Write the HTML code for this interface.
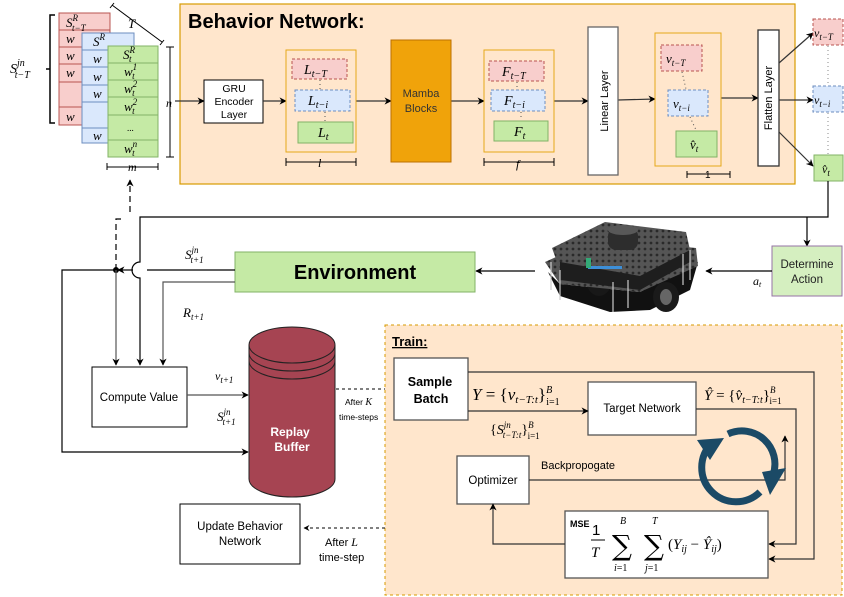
<!DOCTYPE html>
<html><head><meta charset="utf-8"><style>
html,body{margin:0;padding:0;background:#fff}
svg{display:block}
.s{font-family:"Liberation Sans",sans-serif}
.m{font-family:"Liberation Serif",serif;font-style:italic}
</style></head><body>
<svg width="844" height="597" viewBox="0 0 844 597" xmlns="http://www.w3.org/2000/svg">
<defs>
<marker id="a" viewBox="0 0 10 10" refX="9" refY="5" markerWidth="6" markerHeight="6" orient="auto-start-reverse"><path d="M0,0 L10,5 L0,10 L3,5 z" fill="#000"/></marker>
<pattern id="holes" width="6" height="6" patternUnits="userSpaceOnUse"><rect width="6" height="6" fill="#555"/><circle cx="3" cy="3" r="1.4" fill="#2a2a2a"/></pattern>
</defs>
<!-- Behavior network -->
<rect x="180" y="4" width="615" height="180" fill="#ffe6cc" stroke="#d79b00" stroke-width="1.2"/>
<text x="188" y="28" class="s" font-size="20" font-weight="bold">Behavior Network:</text>

<!-- stacks -->
<g stroke="#b85450" fill="#f8cecc" stroke-width="1">
<rect x="59" y="13" width="51" height="17"/><rect x="59" y="30" width="51" height="17"/><rect x="59" y="47" width="51" height="17"/><rect x="59" y="64" width="51" height="18"/><rect x="59" y="82" width="51" height="25"/><rect x="59" y="107" width="51" height="18"/>
</g>
<g class="m" font-size="13"><text x="66" y="27">S<tspan font-size="9" dy="-6">R</tspan><tspan font-size="9" dx="-6" dy="10">t−T</tspan></text>
<text x="66" y="43">w</text><text x="66" y="60">w</text><text x="66" y="77">w</text><text x="66" y="121">w</text></g>
<g stroke="#6c8ebf" fill="#dae8fc" stroke-width="1">
<rect x="82" y="33" width="52" height="17"/><rect x="82" y="50" width="52" height="17"/><rect x="82" y="67" width="52" height="18"/><rect x="82" y="85" width="52" height="17"/><rect x="82" y="102" width="52" height="26"/><rect x="82" y="128" width="52" height="15"/>
</g>
<g class="m" font-size="13"><text x="93" y="46">S<tspan font-size="9" dy="-6">R</tspan></text>
<text x="93" y="63">w</text><text x="93" y="81">w</text><text x="93" y="98">w</text><text x="93" y="140">w</text></g>
<g stroke="#82b366" fill="#c5eaa5" stroke-width="1">
<rect x="108" y="46" width="50" height="17"/><rect x="108" y="63" width="50" height="17"/><rect x="108" y="80" width="50" height="17"/><rect x="108" y="97" width="50" height="18"/><rect x="108" y="115" width="50" height="25"/><rect x="108" y="140" width="50" height="17"/>
</g>
<g class="m" font-size="13">
<text x="123" y="59">S<tspan font-size="9" dy="-6">R</tspan><tspan font-size="9" dx="-6" dy="9">t</tspan></text>
<text x="124" y="76">w<tspan font-size="9" dy="-6">1</tspan><tspan font-size="9" dx="-5" dy="9">t</tspan></text>
<text x="124" y="93">w<tspan font-size="9" dy="-6">2</tspan><tspan font-size="9" dx="-5" dy="9">t</tspan></text>
<text x="124" y="111">w<tspan font-size="9" dy="-6">2</tspan><tspan font-size="9" dx="-5" dy="9">t</tspan></text>
<text x="127" y="131" font-size="9" font-style="normal">...</text>
<text x="124" y="153">w<tspan font-size="9" dy="-6">n</tspan><tspan font-size="9" dx="-5" dy="9">t</tspan></text>
</g>
<path d="M55,15 H50 V123 H55 M50,69 H46" fill="none" stroke="#000" stroke-width="1.5"/>
<text x="10" y="73" class="m" font-size="14">S<tspan font-size="10" dy="-7">jn</tspan><tspan font-size="10" dx="-10" dy="12">t−T</tspan></text>
<path d="M112,5 L162,42 M110,8 L114,3 M160,45 L164,40" stroke="#000" fill="none"/>
<text x="128" y="28" class="m" font-size="13">T</text>
<path d="M166,47 H174 M170,47 V157 M166,157 H174" stroke="#000" fill="none"/>
<text x="166" y="107" class="m" font-size="12">n</text>
<path d="M107,163 V170 M107,167 H158 M158,163 V170" stroke="#000" fill="none"/>
<text x="128" y="171" class="m" font-size="12">m</text>
<path d="M116,270 V219 H125" stroke="#000" fill="none" stroke-dasharray="6,4" stroke-width="1.2"/>
<path d="M130,212 V180" stroke="#000" fill="none" stroke-dasharray="6,4" marker-end="url(#a)" stroke-width="1.2"/>

<!-- GRU -->
<rect x="204" y="80" width="59" height="43" fill="#fff" stroke="#000"/>
<text class="s" font-size="10.5" text-anchor="middle"><tspan x="234" y="92">GRU</tspan><tspan x="234" y="105">Encoder</tspan><tspan x="234" y="118">Layer</tspan></text>
<g stroke="#333" stroke-width="1.2" marker-end="url(#a)">
<line x1="175" y1="101" x2="204" y2="101"/><line x1="263" y1="101" x2="286" y2="101"/><line x1="356" y1="101" x2="391" y2="101"/><line x1="451" y1="101" x2="484" y2="101"/><line x1="554" y1="101" x2="588" y2="101"/><line x1="618" y1="100" x2="655" y2="99"/><line x1="721" y1="98" x2="758" y2="98"/>
<line x1="779" y1="63" x2="813" y2="33"/><line x1="779" y1="100" x2="813" y2="100"/><line x1="779" y1="132" x2="813" y2="166"/>
</g>
<!-- L box -->
<rect x="286" y="50" width="70" height="102" fill="#ffe6cc" stroke="#e6a817"/>
<rect x="292" y="59" width="55" height="20" fill="#f8cecc" stroke="#b85450" stroke-dasharray="3,2"/>
<rect x="295" y="90" width="55" height="21" fill="#dae8fc" stroke="#6c8ebf" stroke-dasharray="3,2"/>
<rect x="298" y="122" width="55" height="21" fill="#c5eaa5" stroke="#82b366"/>
<path d="M320,80 V89 M325,112 V121" stroke="#555" stroke-dasharray="1,3"/>
<g class="m" font-size="14">
<text x="304" y="74">L<tspan font-size="10" dy="3">t−T</tspan></text>
<text x="308" y="105">L<tspan font-size="10" dy="3">t−i</tspan></text>
<text x="318" y="137">L<tspan font-size="10" dy="3">t</tspan></text>
</g>
<path d="M286,158 V166 M286,162 H356 M356,158 V166" stroke="#000" fill="none"/>
<text x="318" y="167" class="m" font-size="12">l</text>
<!-- Mamba -->
<rect x="391" y="40" width="60" height="122" fill="#f0a30a" stroke="#bd7000"/>
<text class="s" font-size="11" text-anchor="middle" fill="#333"><tspan x="421" y="97">Mamba</tspan><tspan x="421" y="112">Blocks</tspan></text>
<!-- F box -->
<rect x="484" y="50" width="70" height="102" fill="#ffe6cc" stroke="#e6a817"/>
<rect x="489" y="61" width="55" height="20" fill="#f8cecc" stroke="#b85450" stroke-dasharray="3,2"/>
<rect x="491" y="90" width="54" height="21" fill="#dae8fc" stroke="#6c8ebf" stroke-dasharray="3,2"/>
<rect x="494" y="121" width="54" height="20" fill="#c5eaa5" stroke="#82b366"/>
<path d="M517,82 V89 M521,112 V120" stroke="#555" stroke-dasharray="1,3"/>
<g class="m" font-size="14">
<text x="502" y="76">F<tspan font-size="10" dy="3">t−T</tspan></text>
<text x="504" y="105">F<tspan font-size="10" dy="3">t−i</tspan></text>
<text x="514" y="136">F<tspan font-size="10" dy="3">t</tspan></text>
</g>
<path d="M484,158 V166 M484,162 H554 M554,158 V166" stroke="#000" fill="none"/>
<text x="516" y="168" class="m" font-size="12">f</text>
<!-- Linear -->
<rect x="588" y="27" width="30" height="148" fill="#fff" stroke="#666" stroke-width="1.3"/>
<text transform="translate(608,101) rotate(-90)" class="s" font-size="11" text-anchor="middle">Linear Layer</text>
<!-- v box -->
<rect x="655" y="33" width="66" height="133" fill="#ffe6cc" stroke="#e6a817"/>
<rect x="661" y="45" width="41" height="26" fill="#f8cecc" stroke="#b85450" stroke-dasharray="3,2"/>
<rect x="668" y="90" width="40" height="26" fill="#dae8fc" stroke="#6c8ebf" stroke-dasharray="3,2"/>
<rect x="676" y="131" width="41" height="26" fill="#c5eaa5" stroke="#82b366"/>
<path d="M682,72 L686,89 M690,117 L696,130" stroke="#555" stroke-dasharray="1,3"/>
<g class="m" font-size="13">
<text x="666" y="63">v<tspan font-size="9" dy="3">t−T</tspan></text>
<text x="673" y="108">v<tspan font-size="9" dy="3">t−i</tspan></text>
<text x="690" y="149">v̂<tspan font-size="9" dy="3">t</tspan></text>
</g>
<path d="M687,171 V178 M687,174 H730 M730,171 V178" stroke="#000" fill="none"/>
<text x="705" y="178" class="s" font-size="10">1</text>
<!-- Flatten -->
<rect x="758" y="30" width="21" height="136" fill="#fff" stroke="#333" stroke-width="1.3"/>
<text transform="translate(772,98) rotate(-90)" class="s" font-size="11" text-anchor="middle">Flatten Layer</text>
<!-- outputs -->
<rect x="813" y="19" width="30" height="26" fill="#f8cecc" stroke="#b85450" stroke-dasharray="3,2"/>
<rect x="813" y="86" width="30" height="26" fill="#dae8fc" stroke="#6c8ebf" stroke-dasharray="3,2"/>
<rect x="814" y="155" width="29" height="26" fill="#c5eaa5" stroke="#82b366"/>
<path d="M828,46 V85 M828,113 V154" stroke="#888" stroke-dasharray="1,3"/>
<g class="m" font-size="12">
<text x="814" y="37">v<tspan font-size="9" dy="3">t−T</tspan></text>
<text x="814" y="104">v<tspan font-size="9" dy="3">t−i</tspan></text>
<text x="822" y="173">v̂<tspan font-size="9" dy="3">t</tspan></text>
</g>
<!-- connectors top -->
<path d="M828,181 V217 H140 V262 A7,7 0 0 0 140,278 V365" fill="none" stroke="#000" stroke-width="1.2" marker-end="url(#a)"/>
<path d="M807,217 V246" fill="none" stroke="#000" stroke-width="1.2" marker-end="url(#a)"/>
<rect x="772" y="246" width="70" height="50" fill="#d5efc0" stroke="#9673a6"/>
<text class="s" font-size="11.5" text-anchor="middle" fill="#222"><tspan x="807" y="268">Determine</tspan><tspan x="807" y="283">Action</tspan></text>
<line x1="772" y1="271" x2="706" y2="271" stroke="#000" stroke-width="1.2" marker-end="url(#a)"/>
<text x="753" y="285" class="m" font-size="12">a<tspan font-size="8" dy="2">t</tspan></text>
<!-- robot -->
<g>
<polygon points="548,272 560,296 610,312 650,310 690,290 698,262 640,292 560,284" fill="#111"/>
<ellipse cx="599" cy="276" rx="14" ry="20" fill="#181818"/>
<ellipse cx="666" cy="297" rx="13" ry="15" fill="#1a1a1a"/>
<ellipse cx="666" cy="297" rx="6" ry="8" fill="#666"/>
<polygon points="545,262 598,238 696,248 698,266 640,292 560,284" fill="url(#holes)"/>
<polygon points="552,248 605,222 686,232 690,250 640,276 560,270" fill="url(#holes)"/>
<polygon points="560,262 640,276 690,250 690,262 640,290 560,280" fill="#1e1e1e"/>
<rect x="608" y="228" width="30" height="22" rx="8" fill="#2d2d2d"/>
<ellipse cx="623" cy="230" rx="15" ry="5" fill="#585858"/>
<rect x="588" y="266" width="34" height="3" fill="#3d8fd8"/>
<rect x="586" y="258" width="5" height="10" fill="#3a7"/>
<g stroke="#ccc" stroke-width="1.2"><line x1="551" y1="262" x2="551" y2="290"/><line x1="560" y1="270" x2="560" y2="300"/><line x1="613" y1="282" x2="613" y2="312"/><line x1="628" y1="280" x2="628" y2="308"/><line x1="683" y1="254" x2="683" y2="285"/><line x1="690" y1="250" x2="690" y2="280"/></g>
</g>
<line x1="535" y1="271" x2="476" y2="271" stroke="#000" stroke-width="1.2" marker-end="url(#a)"/>
<!-- Environment -->
<rect x="235" y="252" width="240" height="40" fill="#c5eaa5" stroke="#82b366"/>
<text x="355" y="279" class="s" font-size="20" font-weight="bold" text-anchor="middle">Environment</text>
<path d="M235,270 H147" stroke="#000" stroke-width="1.2" fill="none"/>
<path d="M133,270 H118" stroke="#000" stroke-width="1.2" fill="none" marker-end="url(#a)"/>
<path d="M116,270 H62 V452 H248" stroke="#000" stroke-width="1.2" fill="none" marker-end="url(#a)"/>
<circle cx="116" cy="270" r="3" fill="#000"/>
<path d="M116,270 V365" stroke="#555" stroke-width="1.2" fill="none" marker-end="url(#a)"/>
<path d="M235,282 H163 V365" stroke="#555" stroke-width="1.2" fill="none" marker-end="url(#a)"/>
<text x="185" y="259" class="m" font-size="13">S<tspan font-size="9" dy="-6">jn</tspan><tspan font-size="9" dx="-8" dy="10">t+1</tspan></text>
<text x="183" y="317" class="m" font-size="13">R<tspan font-size="9" dy="3">t+1</tspan></text>
<!-- compute value -->
<rect x="92" y="367" width="95" height="60" fill="#fff" stroke="#000"/>
<text x="139" y="401" class="s" font-size="11.5" text-anchor="middle">Compute Value</text>
<line x1="187" y1="395" x2="248" y2="395" stroke="#555" stroke-width="1.2" marker-end="url(#a)"/>
<text x="215" y="380" class="m" font-size="12">v<tspan font-size="9" dy="3">t+1</tspan></text>
<text x="217" y="421" class="m" font-size="13">S<tspan font-size="9" dy="-6">jn</tspan><tspan font-size="9" dx="-8" dy="10">t+1</tspan></text>
<!-- cylinder -->
<path d="M249,345 A43,18 0 0 1 335,345 V479 A43,18 0 0 1 249,479 Z" fill="#a64452" stroke="#222" stroke-width="1"/>
<path d="M249,345 A43,18 0 0 0 335,345 M249,353 A43,18 0 0 0 335,353 M249,361 A43,18 0 0 0 335,361" fill="none" stroke="#222"/>
<text class="s" font-size="12" font-weight="bold" fill="#fff" text-anchor="middle"><tspan x="290" y="436">Replay</tspan><tspan x="292" y="451">Buffer</tspan></text>
<line x1="336" y1="389" x2="393" y2="389" stroke="#000" stroke-dasharray="3,3" marker-end="url(#a)"/>
<text x="345" y="405" class="s" font-size="8.5">After <tspan class="m" font-size="10">K</tspan></text>
<text x="339" y="420" class="s" font-size="8.5">time-steps</text>
<!-- Train -->
<rect x="385" y="325" width="457" height="270" fill="#ffe6cc" stroke="#d79b00" stroke-dasharray="3,3"/>
<text x="392" y="346" class="s" font-size="13" font-weight="bold" text-decoration="underline">Train:</text>
<rect x="394" y="358" width="74" height="62" fill="#fff" stroke="#555" stroke-width="1.3"/>
<text class="s" font-size="12.5" font-weight="bold" text-anchor="middle"><tspan x="430" y="386">Sample</tspan><tspan x="431" y="403">Batch</tspan></text>
<rect x="588" y="382" width="108" height="53" fill="#fff" stroke="#555" stroke-width="1.3"/>
<text x="642" y="412" class="s" font-size="11.5" text-anchor="middle">Target Network</text>
<line x1="468" y1="411" x2="588" y2="411" stroke="#333" stroke-width="1.2" marker-end="url(#a)"/>
<text x="472" y="400" class="m" font-size="17">Y <tspan font-style="normal">= {</tspan>v<tspan font-size="11" dy="3">t−T:t</tspan><tspan font-style="normal" dy="-3">}</tspan><tspan font-size="10" dy="-7" font-style="italic">B</tspan><tspan font-size="10" dx="-6" dy="12" font-style="normal">i=1</tspan></text>
<text x="490" y="434" class="m" font-size="14"><tspan font-style="normal">{</tspan>S<tspan font-size="9" dy="-6">jn</tspan><tspan font-size="9" dx="-8" dy="10">t−T:t</tspan><tspan font-style="normal" dy="-4">}</tspan><tspan font-size="9" dy="-6">B</tspan><tspan font-size="9" dx="-6" dy="11" font-style="normal">i=1</tspan></text>
<text x="704" y="400" class="m" font-size="15">Ŷ <tspan font-style="normal">= {</tspan>v̂<tspan font-size="10" dy="3">t−T:t</tspan><tspan font-style="normal" dy="-3">}</tspan><tspan font-size="9" dy="-7">B</tspan><tspan font-size="9" dx="-6" dy="11" font-style="normal">i=1</tspan></text>
<path d="M468,372 H814 V559 H769" stroke="#333" stroke-width="1.2" fill="none" marker-end="url(#a)"/>
<path d="M696,409 H796 V544 H769" stroke="#333" stroke-width="1.2" fill="none" marker-end="url(#a)"/>
<rect x="457" y="456" width="72" height="48" fill="#fff" stroke="#555" stroke-width="1.3"/>
<text x="493" y="484" class="s" font-size="11.5" text-anchor="middle">Optimizer</text>
<path d="M529,480 H785 V436" stroke="#333" stroke-width="1.2" fill="none" marker-end="url(#a)"/>
<text x="541" y="469" class="s" font-size="11">Backpropogate</text>
<rect x="565" y="511" width="203" height="67" fill="#fff" stroke="#555" stroke-width="1.3"/>
<path d="M565,544 H493 V504" stroke="#333" stroke-width="1.2" fill="none" marker-end="url(#a)"/>
<text x="570" y="527" class="s" font-size="9" font-weight="bold">MSE</text>
<text x="592" y="535" class="s" font-size="15">1</text>
<line x1="591" y1="540" x2="605" y2="540" stroke="#000"/>
<text x="591" y="557" class="m" font-size="15">T</text>
<text x="612" y="555" font-family="DejaVu Serif,serif" font-size="28">∑</text>
<text x="644" y="555" font-family="DejaVu Serif,serif" font-size="28">∑</text>
<text x="620" y="524" class="m" font-size="10">B</text>
<text x="652" y="524" class="m" font-size="10">T</text>
<text x="614" y="571" class="m" font-size="10">i<tspan font-style="normal">=1</tspan></text>
<text x="645" y="571" class="m" font-size="10">j<tspan font-style="normal">=1</tspan></text>
<text x="668" y="549" class="m" font-size="15"><tspan font-style="normal">(</tspan>Y<tspan font-size="10" dy="3">ij</tspan><tspan font-style="normal" dy="-3"> − </tspan>Ŷ<tspan font-size="10" dy="3">ij</tspan><tspan font-style="normal" dy="-3">)</tspan></text>
<!-- refresh icon -->
<g stroke="#1b4a66" stroke-width="7" fill="none">
<path d="M712,443 A33,33 0 0 0 760,492"/>
<path d="M728,434 A33,33 0 0 1 773,475"/>
</g>
<polygon points="697,440 724,438 710,460" fill="#1b4a66"/>
<polygon points="762,472 786,468 770,495" fill="#1b4a66"/>
<!-- update -->
<rect x="180" y="504" width="120" height="60" fill="#fff" stroke="#000"/>
<text class="s" font-size="11.5" text-anchor="middle"><tspan x="240" y="530">Update Behavior</tspan><tspan x="240" y="545">Network</tspan></text>
<line x1="385" y1="528" x2="304" y2="528" stroke="#000" stroke-dasharray="3,3" marker-end="url(#a)"/>
<text x="325" y="546" class="s" font-size="11">After <tspan class="m" font-size="12">L</tspan></text>
<text x="319" y="561" class="s" font-size="11">time-step</text>
</svg>
</body></html>
